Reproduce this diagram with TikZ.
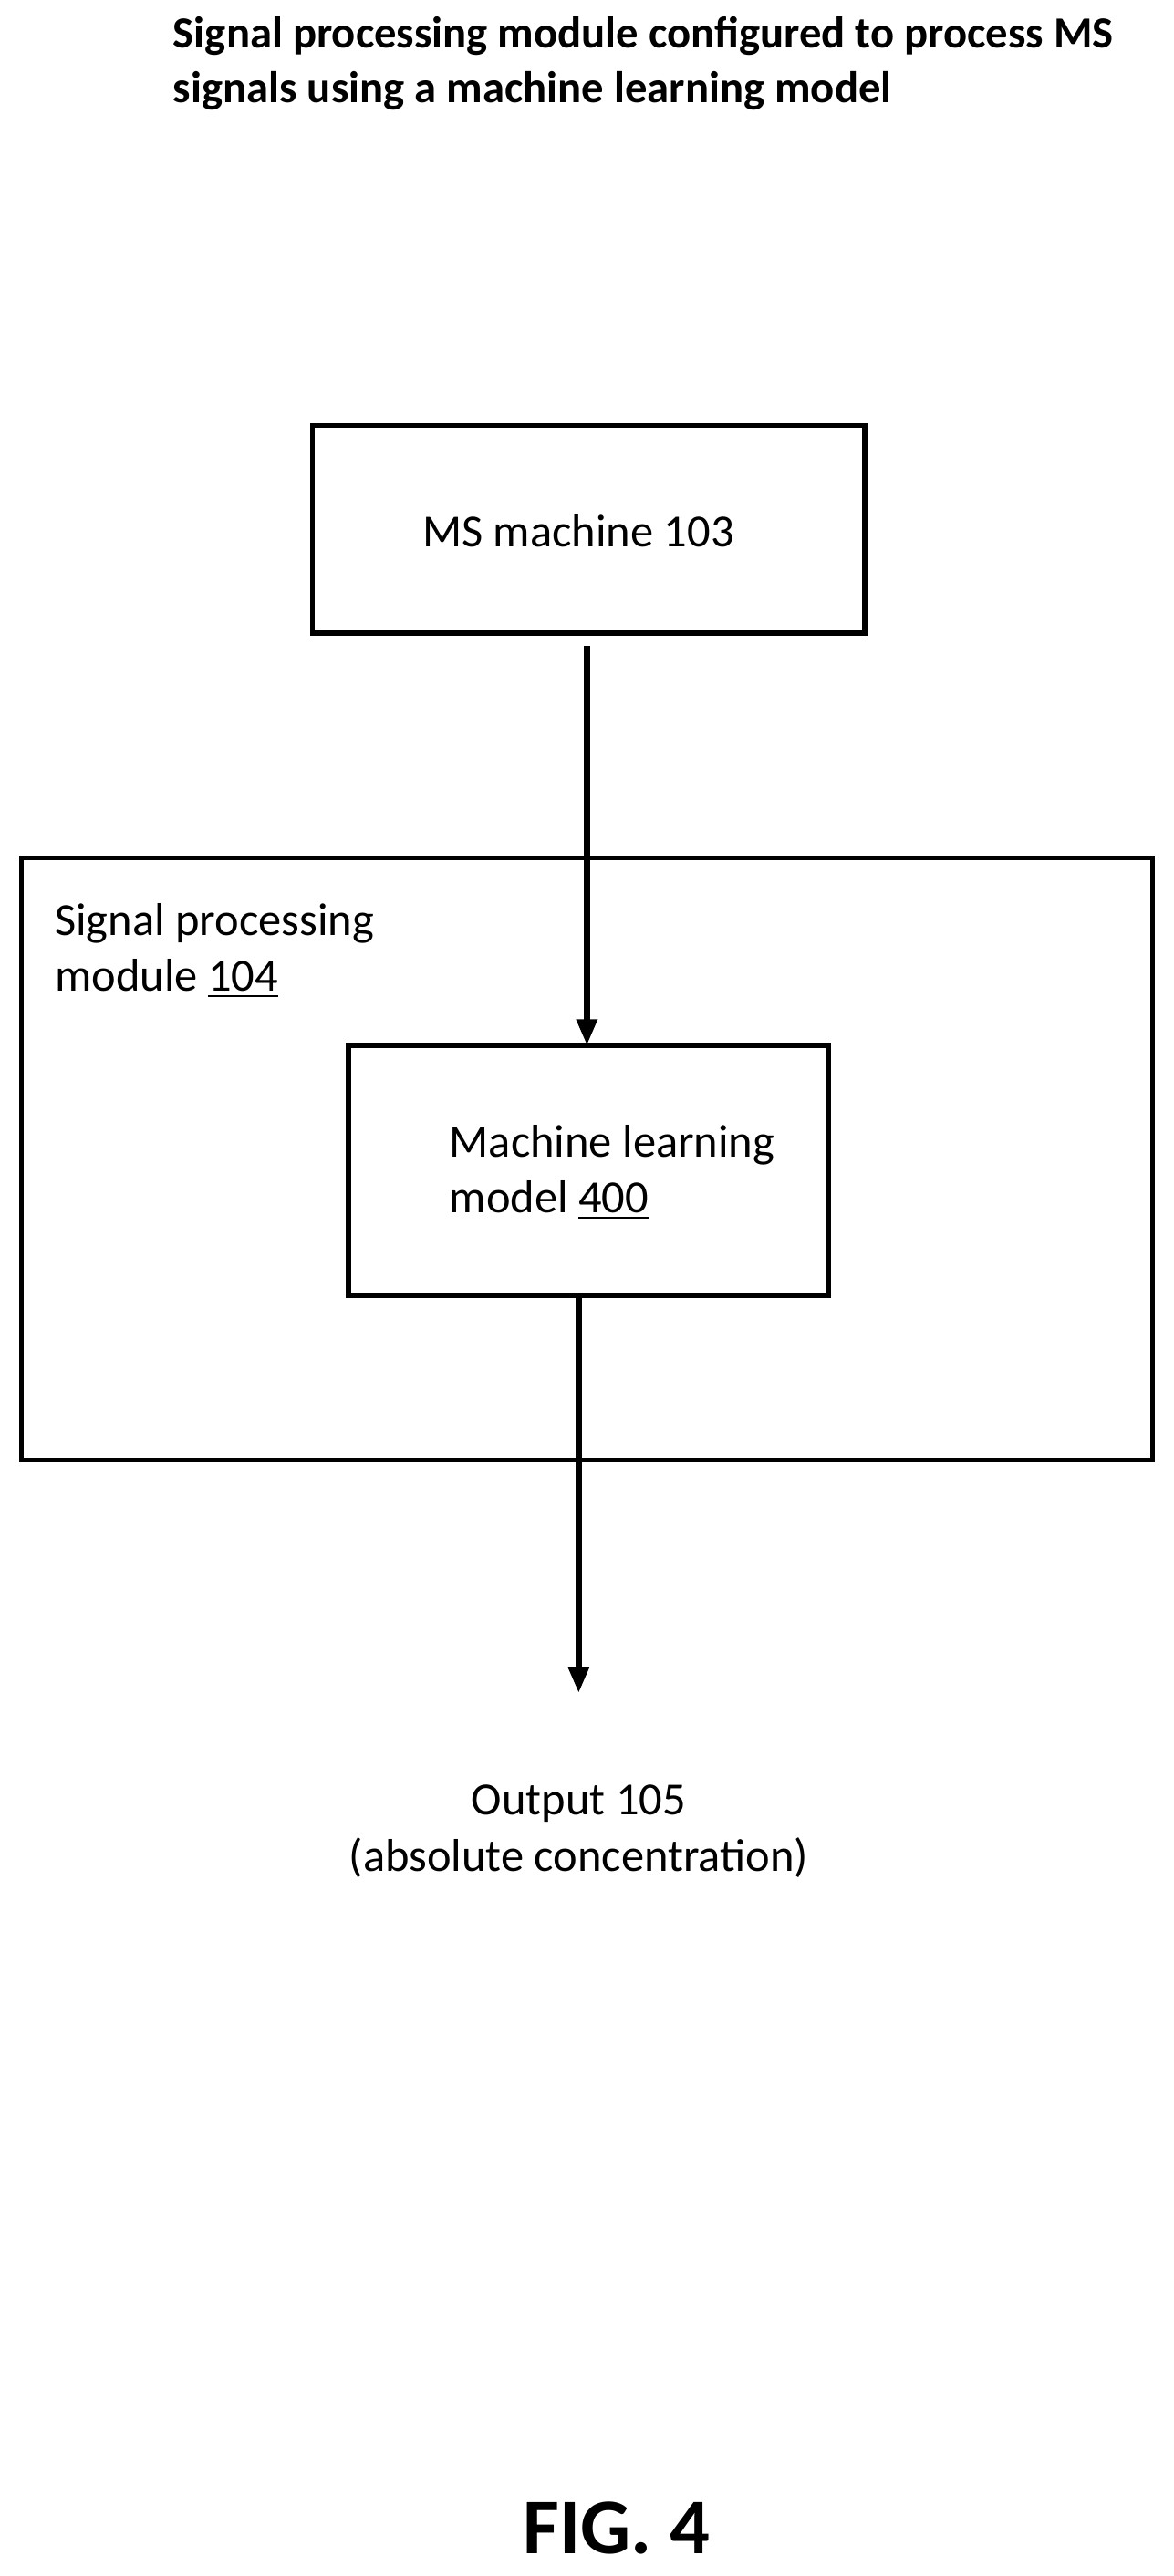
\documentclass[tikz,border=0pt]{standalone}
\usepackage{fontspec}
\setmainfont{Carlito}
\usetikzlibrary{arrows.meta,positioning}
\tikzset{>={Triangle[width=6pt,length=8pt]}}
\tikzset{box/.style={draw, line width=1.5pt},
  lbl/.style={font=\fontsize{14}{17}\selectfont, align=left}}
\begin{document}
\begin{tikzpicture}[x=0.5pt,y=-0.5pt]
  \useasboundingbox (0,0) rectangle (714,1567);

  \node[anchor=north west, align=left, font=\bfseries\fontsize{13.5}{16.5}\selectfont, inner sep=0pt] (title) at (105,10)
    {Signal processing module configured to process MS\\signals using a machine learning model};

  \node[box, minimum width=168pt, minimum height=63pt] (ms) at (358,322) {};
  \node[lbl, anchor=west] (mstxt) at (250,323) {MS machine 103};

  \node[box, minimum width=344pt, minimum height=183pt] (spm) at (357,705) {};
  \node[lbl, anchor=north west, inner sep=0pt] (spmtxt) at (33,549) {Signal processing\\module \underline{104}};

  \node[box, minimum width=146pt, minimum height=76pt] (ml) at (358,712) {};
  \node[lbl, anchor=north west, inner sep=0pt] (mltxt) at (273,684) {Machine learning\\model \underline{400}};

  \coordinate (in) at (357,636);
  \coordinate (msb) at (357,393);
  \coordinate (mlb) at (352,788);
  \node[lbl, align=center] (out) at (352,1114) {Output 105\\(absolute concentration)};
  \coordinate (outt) at (352,1030);

  \draw[->, line width=2pt] (msb) -- (in);
  \draw[->, line width=2pt] (mlb) -- (outt);

  \node[font=\bfseries\fontsize{24}{28}\selectfont] (fig) at (375,1538) {FIG. 4};
\end{tikzpicture}
\end{document}
